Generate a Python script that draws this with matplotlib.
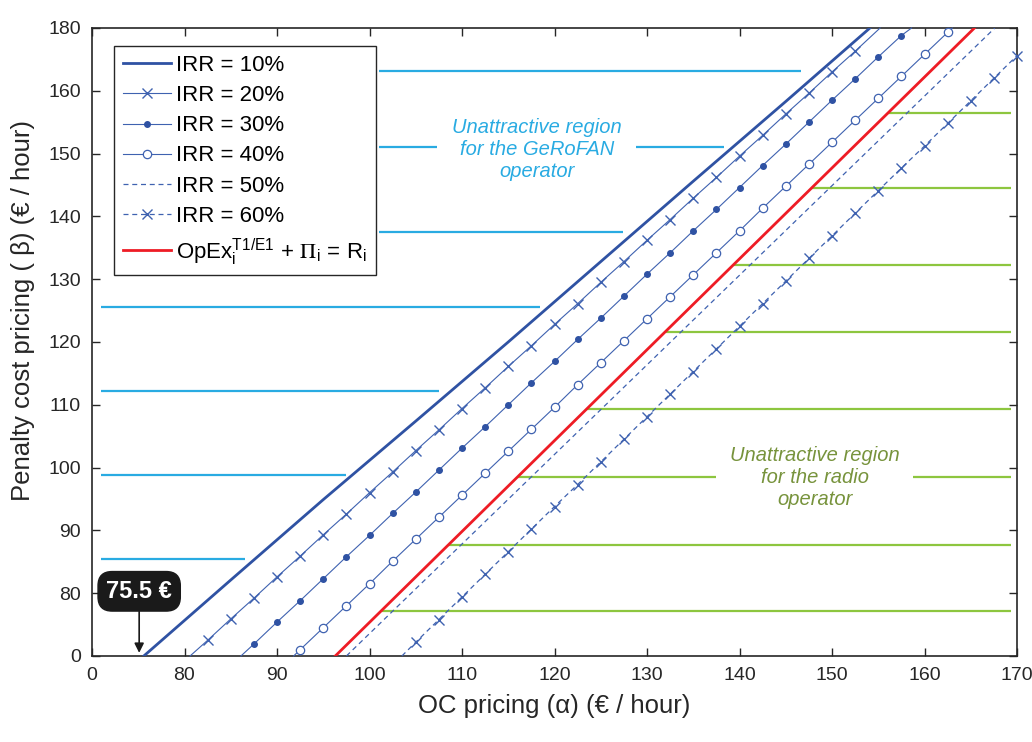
import matplotlib
matplotlib.use("Agg")
import matplotlib.pyplot as plt

plt.rcParams['font.family'] = ['Liberation Sans', 'DejaVu Sans']
plt.rcParams['mathtext.fontset'] = 'stix'

# ---------------- data ----------------
irr10_alpha = [75.6, 85.0, 95.0, 105.0, 115.0, 125.0, 135.0, 145.0, 154.1]
irr10_beta = [70.0, 82.1, 94.9, 107.4, 120.0, 132.8, 145.6, 158.3, 170.0]

irr20_alpha = [80.6, 82.5, 85, 87.5, 90, 92.5, 95, 97.5, 100, 102.5, 105, 107.5, 110, 112.5,
               115, 117.5, 120, 122.5, 125, 127.5, 130, 132.5, 135, 137.5, 140, 142.5, 145,
               147.5, 150, 152.5, 155.2]
irr20_beta = [70.0, 72.5, 75.9, 79.2, 82.6, 85.9, 89.3, 92.6, 96.0, 99.3, 102.7, 106.0, 109.4,
              112.7, 116.1, 119.4, 122.8, 126.1, 129.5, 132.8, 136.2, 139.5, 142.9, 146.2,
              149.6, 152.9, 156.3, 159.6, 163.0, 166.3, 170.0]

irr30_alpha = [86.1, 87.5, 90, 92.5, 95, 97.5, 100, 102.5, 105, 107.5, 110, 112.5, 115, 117.5,
               120, 122.5, 125, 127.5, 130, 132.5, 135, 137.5, 140, 142.5, 145, 147.5, 150,
               152.5, 155, 157.5, 158.6]
irr30_beta = [70.0, 71.9, 75.4, 78.8, 82.3, 85.8, 89.2, 92.7, 96.1, 99.6, 103.1, 106.5, 110.0,
              113.5, 116.9, 120.4, 123.8, 127.3, 130.8, 134.2, 137.7, 141.1, 144.6, 148.1,
              151.5, 155.0, 158.5, 161.9, 165.4, 168.8, 170.0]

irr40_alpha = [91.8, 92.5, 95, 97.5, 100, 102.5, 105, 107.5, 110, 112.5, 115, 117.5, 120, 122.5,
               125, 127.5, 130, 132.5, 135, 137.5, 140, 142.5, 145, 147.5, 150, 152.5, 155,
               157.5, 160, 162.5, 163.0]
irr40_beta = [70.0, 71.0, 74.5, 78.0, 81.5, 85.1, 88.6, 92.1, 95.6, 99.1, 102.6, 106.1, 109.6,
              113.2, 116.7, 120.2, 123.7, 127.2, 130.7, 134.2, 137.7, 141.3, 144.8, 148.3,
              151.8, 155.3, 158.8, 162.3, 165.8, 169.3, 170.0]

irr50_alpha = [97.5, 167.6]
irr50_beta = [70.0, 170.0]

irr60_alpha = [103.5, 105, 107.5, 110, 112.5, 115, 117.5, 120, 122.5, 125, 127.5, 130, 132.5,
               135, 137.5, 140, 142.5, 145, 147.5, 150, 152.5, 155, 157.5, 160, 162.5, 165,
               167.5, 170]
irr60_beta = [70.0, 72.2, 75.8, 79.4, 83.0, 86.6, 90.2, 93.8, 97.3, 100.9, 104.5, 108.1, 111.7,
              115.3, 118.9, 122.5, 126.1, 129.7, 133.3, 136.9, 140.5, 144.1, 147.7, 151.2,
              154.8, 158.4, 162.0, 165.6]

red_alpha = [96.3, 165.4]
red_beta = [70.0, 170.0]

# GeRoFAN (cyan) region boundaries: (beta, [(start, end), ...])
cyan_beta = [85.4, 98.8, 112.2, 125.6, 137.5, 151.05, 163.15]
cyan_segments = [[(71.0, 86.5)], [(71.0, 97.5)], [(71.0, 107.5)], [(71.0, 118.4)],
                 [(101.0, 127.4)], [(101.0, 107.3), (128.8, 138.3)], [(101.0, 146.6)]]

# radio (green) region boundaries
green_beta = [77.2, 87.7, 98.5, 109.3, 121.6, 132.3, 144.5, 156.5]
green_segments = [[(101.3, 169.4)], [(108.5, 169.4)], [(116.0, 137.5), (158.8, 169.4)],
                  [(123.5, 169.4)], [(132.0, 169.4)], [(139.4, 169.4)], [(147.8, 169.4)],
                  [(156.1, 169.4)]]

x_ticks = [70, 80, 90, 100, 110, 120, 130, 140, 150, 160, 170]
x_labels = ['0', '80', '90', '100', '110', '120', '130', '140', '150', '160', '170']
y_ticks = [70, 80, 90, 100, 110, 120, 130, 140, 150, 160, 170]
y_labels = ['0', '80', '90', '100', '110', '120', '130', '140', '150', '160', '180']

callout_alpha = 75.1
callout_text = '75.5 €'

# ---------------- styles ----------------
BLUE = '#2f52a3'
BLUE_T = '#3f62b0'
RED = '#ee1c25'
CYAN = '#29abe2'
GREEN = '#8dc63f'
GREEN_TXT = '#77933c'
INK = '#262626'

fig = plt.figure(figsize=(10.32, 7.42), dpi=100)
ax = fig.add_axes([92 / 1032, 1 - 656 / 742, (1017 - 92) / 1032, (656 - 28) / 742])

# region lines
for b, segs in zip(cyan_beta, cyan_segments):
    for s, e in segs:
        ax.plot([s, e], [b, b], color=CYAN, lw=1.6, solid_capstyle='butt', zorder=1)
for b, segs in zip(green_beta, green_segments):
    for s, e in segs:
        ax.plot([s, e], [b, b], color=GREEN, lw=1.6, solid_capstyle='butt', zorder=1)

h10, = ax.plot(irr10_alpha, irr10_beta, color=BLUE, lw=2.0, label='IRR = 10%', zorder=3)
h20, = ax.plot(irr20_alpha, irr20_beta, color=BLUE_T, lw=0.8, marker='x', ms=6.5, mew=1.0,
               markevery=list(range(1, len(irr20_alpha) - 1)), label='IRR = 20%',
               clip_on=False, zorder=3)
h30, = ax.plot(irr30_alpha, irr30_beta, color=BLUE_T, lw=0.8, marker='o', ms=4.0,
               mfc=BLUE, mec=BLUE, markevery=list(range(1, len(irr30_alpha) - 1)),
               label='IRR = 30%', clip_on=False, zorder=3)
h40, = ax.plot(irr40_alpha, irr40_beta, color=BLUE_T, lw=0.8, marker='o', ms=6.0,
               mfc='white', mec=BLUE_T, mew=0.9,
               markevery=list(range(1, len(irr40_alpha) - 1)), label='IRR = 40%',
               clip_on=False, zorder=3)
h50, = ax.plot(irr50_alpha, irr50_beta, color=BLUE_T, lw=0.9, ls=(0, (4, 3)),
               label='IRR = 50%', zorder=3)
h60, = ax.plot(irr60_alpha, irr60_beta, color=BLUE_T, lw=0.9, ls=(0, (4, 3)), marker='x',
               ms=6.5, mew=1.0, markevery=list(range(1, len(irr60_alpha))),
               label='IRR = 60%', clip_on=False, zorder=3)
hr, = ax.plot(red_alpha, red_beta, color=RED, lw=2.0,
              label=r'OpEx$_\mathregular{i}^\mathregular{T1/E1}$ + $\Pi_\mathregular{i}$ = R$_\mathregular{i}$',
              zorder=4)

ax.set_xlim(70, 170)
ax.set_ylim(70, 170)
ax.set_xticks(x_ticks)
ax.set_xticklabels(x_labels)
ax.set_yticks(y_ticks)
ax.set_yticklabels(y_labels)
ax.tick_params(direction='in', length=6, width=1, top=True, right=True,
               labelsize=14, pad=8, colors=INK)
for sp in ax.spines.values():
    sp.set_linewidth(1.2)
    sp.set_color(INK)

ax.set_xlabel('OC pricing (α) (€ / hour)', fontsize=18.5, labelpad=7, color=INK)
ax.set_ylabel('Penalty cost pricing ( β) (€ / hour)', fontsize=18.5, labelpad=6,
              color=INK)
ax.yaxis.set_label_coords(-0.062, 0.55)

leg = ax.legend(handles=[h10, h20, h30, h40, h50, h60, hr], loc='upper left',
                bbox_to_anchor=(0.0238, 0.971), borderaxespad=0, fontsize=16,
                frameon=True, fancybox=False, edgecolor=INK, framealpha=1,
                handlelength=2.15, handletextpad=0.25, labelspacing=0.41, borderpad=0.4)
leg.get_frame().set_linewidth(1.0)

ax.text(118.1, 150.6, 'Unattractive region\nfor the GeRoFAN\noperator', color=CYAN,
        fontsize=14.5, style='italic', ha='center', va='center', linespacing=1.2)
ax.text(148.2, 98.5, 'Unattractive region\nfor the radio\noperator', color=GREEN_TXT,
        fontsize=14.5, style='italic', ha='center', va='center', linespacing=1.2)

# callout
ax.annotate(callout_text, xy=(callout_alpha, 70.5), xytext=(callout_alpha, 80.3),
            ha='center', va='center', color='white', fontsize=17, fontweight='bold',
            bbox=dict(boxstyle='round,pad=0.35,rounding_size=0.6', fc='#1a1a1a', ec='#1a1a1a'),
            arrowprops=dict(arrowstyle='-|>', color='#1a1a1a', lw=1.2, mutation_scale=14,
                            shrinkA=0, shrinkB=0),
            zorder=6)

fig.savefig('out.png', dpi=100)
